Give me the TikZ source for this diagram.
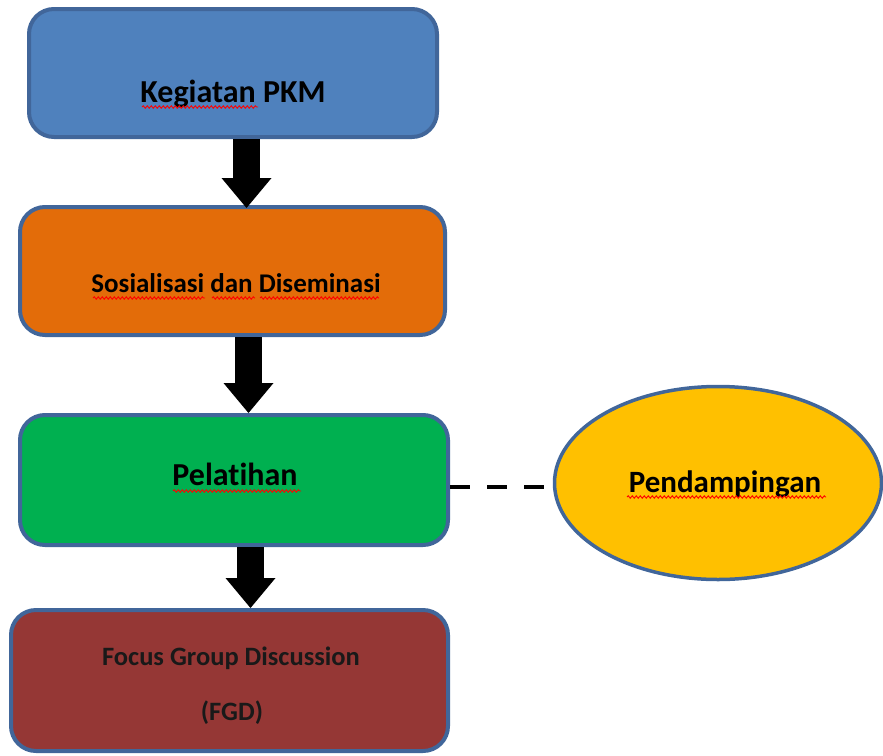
\documentclass[tikz,border=0pt]{standalone}
\usepackage{fontspec}
\setmainfont{Carlito}[Ligatures=NoCommon]
\usetikzlibrary{shapes.geometric,arrows.meta,decorations.pathmorphing}
\definecolor{pkmblue}{HTML}{4F81BD}
\definecolor{pkmorange}{HTML}{E36C09}
\definecolor{pkmgreen}{HTML}{00B050}
\definecolor{pkmred}{HTML}{953735}
\definecolor{pkmyellow}{HTML}{FFC000}
\definecolor{pkmborder}{HTML}{41669A}
\begin{document}
\begin{tikzpicture}[x=1pt,y=-1pt]
        \tikzstyle{stage}=[rectangle,rounded corners=25pt,draw=pkmborder,line width=4pt,inner sep=0pt]
        \tikzstyle{caption}=[anchor=base,inner sep=0pt,font=\bfseries]
        \tikzstyle{bigarrow}=[draw=black,line width=27pt,-{Triangle[length=30pt,width=50pt,line width=0pt]}]
        \tikzstyle{dashline}=[draw=black,line width=4.5pt,dash pattern=on 20pt off 17pt]
        \tikzstyle{squiggle}=[draw=red,line width=0.9pt,decorate,decoration={snake,amplitude=1.2pt,segment length=4pt}]
        \useasboundingbox (0,0) rectangle (883,755);
        \begin{scope}
            % the four stages
            \node [stage,fill=pkmblue,minimum width=408pt,minimum height=128pt] (kegiatan) at (233,73) {};
            \node [stage,fill=pkmorange,minimum width=425pt,minimum height=128pt] (sosialisasi) at (232.5,271) {};
            \node [stage,fill=pkmgreen,minimum width=428pt,minimum height=130pt] (pelatihan) at (234,480) {};
            \node [stage,fill=pkmred,minimum width=437pt,minimum height=141pt] (fgd) at (229.5,680.5) {};
            \node [ellipse,draw=pkmborder,line width=3.5pt,fill=pkmyellow,inner sep=0pt,minimum width=327pt,minimum height=193pt] (pendampingan) at (718,483) {};
            % texts
            \node [caption,font=\bfseries\fontsize{32}{38}\selectfont] (kegiatanT) at (233,102) {Kegiatan PKM};
            \node [caption,font=\bfseries\fontsize{27}{32}\selectfont] (sosialisasiT) at (236,292) {Sosialisasi dan Diseminasi};
            \node [caption,font=\bfseries\fontsize{32}{38}\selectfont] (pelatihanT) at (235,485) {Pelatihan};
            \node [caption,font=\bfseries\fontsize{31}{37}\selectfont] (pendampinganT) at (725,492) {Pendampingan};
            \node [caption,font=\bfseries\fontsize{26.5}{32}\selectfont,text=black!90] (fgdT1) at (231,665) {Focus Group Discussion};
            \node [caption,font=\bfseries\fontsize{26.5}{32}\selectfont,text=black!90] (fgdT2) at (232,720) {(FGD)};
            % spelling marks
            \draw [squiggle] (142,107) -- (258,107);
            \draw [squiggle] (93,298) -- (205,298);
            \draw [squiggle] (212,298) -- (255,298);
            \draw [squiggle] (260,298) -- (379,298);
            \draw [squiggle] (173,491) -- (301,491);
            \draw [squiggle] (627,497) -- (826,497);
            % arrows
            \path [bigarrow] ([xshift=13.5pt]kegiatan.south) -- ([xshift=13.5pt,yshift=-3pt]kegiatan.south |- sosialisasi.north);
            \path [bigarrow] ([xshift=16pt]sosialisasi.south) -- ([xshift=16pt]sosialisasi.south |- pelatihan.north);
            \path [bigarrow] ([xshift=16.5pt]pelatihan.south) -- ([xshift=16.5pt]pelatihan.south |- fgd.north);
            \path [dashline] ([yshift=-7pt]pelatihan.east) -- ([yshift=-7pt]pelatihan.east -| pendampingan.west);
        \end{scope}
\end{tikzpicture}
\end{document}
